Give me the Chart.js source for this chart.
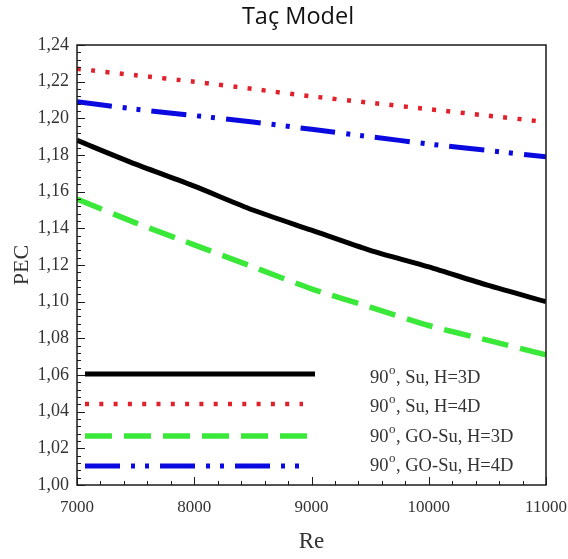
<!DOCTYPE html>
<html lang="tr">
<head>
<meta charset="UTF-8" />
<title>Taç Model</title>
<style>
  html, body { margin: 0; padding: 0; background: #fff; }
  #wrap { width: 568px; height: 559px; position: relative; }
</style>
</head>
<body>
<div id="wrap"><canvas id="chart"></canvas></div>
<script src="https://cdn.jsdelivr.net/npm/chart.js@4.4.0/dist/chart.umd.min.js"></script>
<script>
// Re degerleri (x ekseni)
var reValues = [7000, 7500, 8000, 8500, 9000, 9500, 10000, 10500, 11000];
// PEC degerleri
var suH3D   = [1.188, 1.175, 1.163, 1.150, 1.139, 1.128, 1.119, 1.109, 1.100];
var suH4D   = [1.227, 1.2235, 1.220, 1.216, 1.212, 1.2085, 1.205, 1.2015, 1.198];
var goSuH3D = [1.156, 1.143, 1.131, 1.119, 1.107, 1.097, 1.087, 1.079, 1.071];
var goSuH4D = [1.209, 1.205, 1.2015, 1.198, 1.194, 1.190, 1.186, 1.1825, 1.179];
var seriesNames = [", Su, H=3D", ", Su, H=4D", ", GO-Su, H=3D", ", GO-Su, H=4D"];
var angleText = "90";
var xTicks = [7000, 8000, 9000, 10000, 11000];
var yTicks = [1.00, 1.02, 1.04, 1.06, 1.08, 1.10, 1.12, 1.14, 1.16, 1.18, 1.20, 1.22, 1.24];

var colors = ["#000000", "#e0202a", "#3ae83a", "#0a0ae0"];
var widths = [5, 4.5, 5.5, 5];
var dashes = [[], [4, 10.3], [27, 12], [35, 11, 4, 10, 4, 11]];

function points(vals) {
  return reValues.map(function (x, i) { return { x: x, y: vals[i] }; });
}

var allSeries = [suH3D, suH4D, goSuH3D, goSuH4D];
var datasets = allSeries.map(function (vals, i) {
  return {
    label: seriesNames[i],
    data: points(vals),
    borderColor: colors[i],
    borderWidth: widths[i],
    borderDash: dashes[i],
    borderCapStyle: "butt",
    pointRadius: 0,
    tension: 0.25,
    fill: false
  };
});

// cerceve, ic tikler, lejant ve baslik
var decorPlugin = {
  id: "decor",
  afterDraw: function (chart) {
    var ctx = chart.ctx, a = chart.chartArea;
    var xs = chart.scales.x, ys = chart.scales.y;
    ctx.save();
    ctx.strokeStyle = "#1a1a1a";
    ctx.lineWidth = 1;
    ctx.beginPath();
    for (var v = xTicks[0]; v <= xTicks[xTicks.length - 1]; v += 200) {
      var px = Math.round(xs.getPixelForValue(v)) + 0.5;
      var len = v % 1000 === 0 ? 8 : 4;
      ctx.moveTo(px, a.bottom);
      ctx.lineTo(px, a.bottom - len);
    }
    for (var i = 0; i <= 60; i++) {
      var py = Math.round(ys.getPixelForValue(1 + i * 0.004)) + 0.5;
      var l2 = i % 5 === 0 ? 8 : 4;
      ctx.moveTo(a.left, py);
      ctx.lineTo(a.left + l2, py);
    }
    ctx.stroke();
    ctx.lineWidth = 1.5;
    ctx.strokeRect(a.left, a.top, a.right - a.left, a.bottom - a.top);

    // lejant
    var rows = [a.bottom - 111, a.bottom - 81, a.bottom - 49, a.bottom - 19];
    var textRows = [a.bottom - 107, a.bottom - 78, a.bottom - 48, a.bottom - 19];
    var ends = [238, 226, 230, 224];
    for (var k = 0; k < 4; k++) {
      ctx.beginPath();
      ctx.strokeStyle = colors[k];
      ctx.lineWidth = widths[k];
      ctx.lineCap = "butt";
      ctx.setLineDash(dashes[k]);
      ctx.moveTo(a.left + 8, rows[k]);
      ctx.lineTo(a.left + ends[k], rows[k]);
      ctx.stroke();
      ctx.setLineDash([]);

      var tx = a.left + 293, ty = textRows[k];
      ctx.fillStyle = "#333";
      ctx.textBaseline = "middle";
      ctx.textAlign = "left";
      ctx.font = '18.5px "Liberation Serif"';
      ctx.fillText(angleText, tx, ty);
      var w = ctx.measureText(angleText).width;
      ctx.font = '13px "Liberation Serif"';
      ctx.fillText("o", tx + w + 0.5, ty - 7);
      var w2 = ctx.measureText("o").width;
      ctx.font = '18.5px "Liberation Serif"';
      ctx.fillText(seriesNames[k], tx + w + w2 + 1, ty);
    }

    // baslik
    ctx.fillStyle = "#111";
    ctx.font = '23.5px "Open Sans"';
    ctx.textAlign = "center";
    ctx.textBaseline = "middle";
    ctx.fillText("Taç Model", chart.width / 2 + 14, 17);
    ctx.restore();
  }
};

var ctx = document.getElementById("chart").getContext("2d");
var myChart = new Chart(ctx, {
  type: "line",
  data: { datasets: datasets },
  plugins: [decorPlugin],
  options: {
    responsive: true,
    maintainAspectRatio: false,
    animation: false,
    layout: { padding: { top: 45, right: 22, left: 0, bottom: 0 } },
    plugins: {
      legend: { display: false },
      tooltip: { enabled: false }
    },
    scales: {
      x: {
        type: "linear",
        min: 7000,
        max: 11000,
        grid: { display: false, drawTicks: false },
        border: { display: false },
        afterBuildTicks: function (s) { s.ticks = xTicks.map(function (v) { return { value: v }; }); },
        afterFit: function (s) { s.height = 74; s.paddingLeft = 0; s.paddingRight = 0; },
        ticks: {
          padding: 12,
          maxRotation: 0,
          color: "#333",
          font: { family: "Liberation Serif", size: 17 },
          callback: function (v) { return String(v); }
        },
        title: {
          display: true,
          text: "Re",
          color: "#333",
          font: { family: "Liberation Serif", size: 23 },
          padding: { top: 3, bottom: 3 }
        }
      },
      y: {
        min: 1.0,
        max: 1.24,
        grid: { display: false, drawTicks: false },
        border: { display: false },
        afterBuildTicks: function (s) { s.ticks = yTicks.map(function (v) { return { value: v }; }); },
        afterFit: function (s) { s.width = 77; s.paddingTop = 0; s.paddingBottom = 0; },
        ticks: {
          padding: 8,
          color: "#333",
          font: { family: "Liberation Serif", size: 18 },
          callback: function (v) { return v.toFixed(2).replace(".", ","); }
        },
        title: {
          display: true,
          text: "PEC",
          color: "#333",
          font: { family: "Liberation Serif", size: 22 },
          padding: { top: 9, bottom: 9 }
        }
      }
    }
  }
});
</script>
</body>
</html>
